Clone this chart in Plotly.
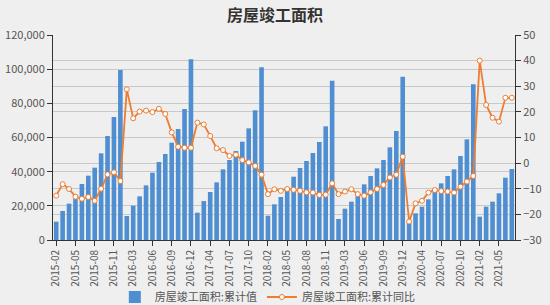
import plotly.graph_objects as go

years = {2015: list(range(2, 13)), 2016: list(range(2, 13)), 2017: list(range(2, 13)),
         2018: list(range(2, 13)), 2019: list(range(2, 13)), 2020: list(range(2, 13)),
         2021: list(range(2, 8))}
categories = [f"{y}-{m:02d}" for y, ms in years.items() for m in ms]

cumulative = [
    10730, 16975, 21270, 24200, 32780, 37650, 42340, 50730, 60870, 72000, 99500,
    14050, 20100, 25560, 32000, 39400, 45660, 50340, 56970, 64970, 76680, 105750,
    16000, 22800, 28100, 33750, 41360, 46830, 52100, 57550, 65360, 75900, 101070,
    14240, 20880, 25170, 29850, 37070, 42150, 46240, 50920, 57360, 66530, 93260,
    12290, 18340, 22440, 26900, 32580, 37460, 41950, 46820, 54240, 63800, 95600,
    9760, 15610, 19510, 23800, 28870, 33170, 37460, 41360, 49170, 58920, 91110,
    13660, 19510, 22440, 27310, 36480, 41560,
]
yoy = [
    -12.7, -8.2, -10.1, -13.1, -13.9, -13.2, -14.7, -10.0, -4.4, -3.6, -7.0,
    28.8, 17.5, 20.1, 20.5, 19.9, 21.2, 19.2, 12.0, 6.4, 6.0, 6.0,
    15.8, 15.1, 10.6, 5.8, 5.1, 2.8, 3.3, 1.2, 0.3, -1.1, -4.5,
    -12.1, -10.2, -10.8, -10.1, -10.4, -10.8, -11.4, -11.5, -12.4, -12.3, -7.9,
    -12.1, -11.1, -10.2, -12.1, -12.7, -11.4, -10.1, -8.5, -5.6, -4.5, 2.5,
    -22.8, -15.7, -14.7, -11.5, -10.5, -10.9, -11.1, -11.5, -9.2, -7.2, -5.0,
    40.0, 22.7, 17.7, 16.2, 25.5, 25.5,
]
tick_labels = categories[::3]

FONT = "Microsoft YaHei, Noto Sans CJK SC, sans-serif"

fig = go.Figure()
fig.add_trace(go.Bar(
    x=categories, y=cumulative, name="房屋竣工面积:累计值",
    marker=dict(color="#4f8fd1", line=dict(width=0)),
))
fig.add_trace(go.Scatter(
    x=categories, y=yoy, name="房屋竣工面积:累计同比", yaxis="y2",
    mode="lines+markers",
    line=dict(color="#ed7d31", width=1.8),
    marker=dict(size=5, color="white", line=dict(color="#ed7d31", width=1)),
))

fig.update_layout(
    width=550, height=305,
    margin=dict(l=53, r=35, t=35, b=65),
    paper_bgcolor="#efefef", plot_bgcolor="#efefef",
    font=dict(family=FONT, size=11, color="#555555"),
    title=dict(text="<b>房屋竣工面积</b>", x=0.5, xanchor="center",
               y=1 - 15 / 305, yanchor="middle",
               font=dict(size=16, color="#333333", family=FONT)),
    bargap=0.28,
    showlegend=True,
    legend=dict(orientation="h", x=0.465, xanchor="center", yref="container",
                y=(305 - 297) / 305, yanchor="middle",
                font=dict(size=11, color="#555555"), bgcolor="rgba(0,0,0,0)",
                itemwidth=30),
    xaxis=dict(
        type="category", tickmode="array", tickvals=tick_labels, ticktext=tick_labels,
        tickangle=-90, tickfont=dict(size=10, color="#555555"),
        showgrid=False, showline=True, linecolor="#333333", linewidth=1,
        ticks="outside", ticklen=5, tickcolor="#333333",
        range=[-0.5, len(categories) - 0.5], automargin=False,
    ),
    yaxis=dict(
        range=[0, 120000], dtick=20000, tickformat=",",
        showgrid=True, gridcolor="#c8c8c8", gridwidth=1,
        showline=True, linecolor="#333333", linewidth=1,
        ticks="outside", ticklen=5, tickcolor="#333333",
        zeroline=False, automargin=False,
    ),
    yaxis2=dict(
        range=[-30, 50], dtick=10, overlaying="y", side="right",
        showgrid=True, gridcolor="#c8c8c8", gridwidth=1,
        showline=True, linecolor="#333333", linewidth=1,
        ticks="outside", ticklen=5, tickcolor="#333333",
        zeroline=False, automargin=False,
    ),
)

fig.write_html("out.html")
